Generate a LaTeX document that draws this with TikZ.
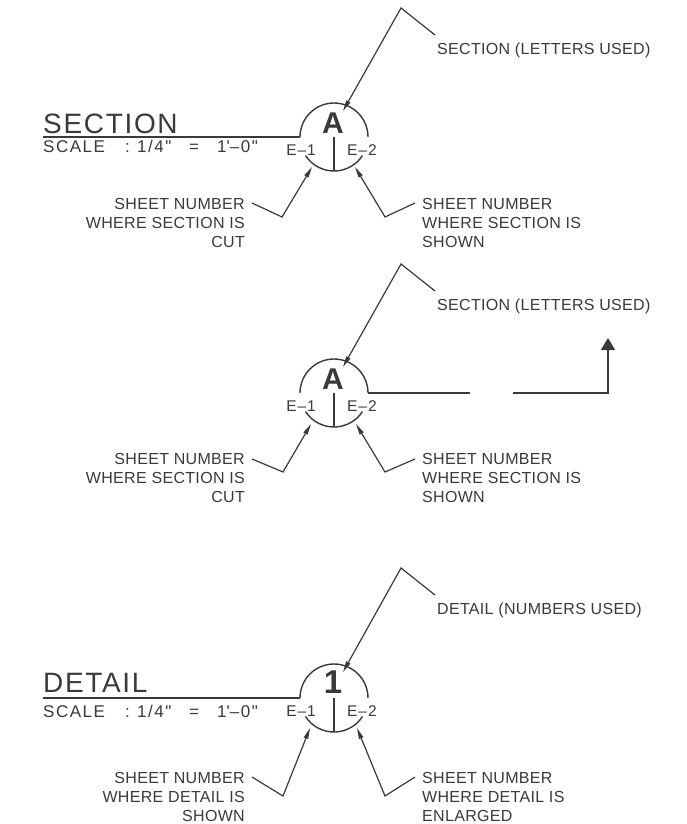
\documentclass[tikz,border=0pt]{standalone}
\usepackage{fontspec}
\setmainfont{Liberation Sans}
\newfontfamily\cadfont[LetterSpace=2]{Liberation Sans}
\newfontfamily\cadwide[LetterSpace=6]{Liberation Sans}
\newfontfamily\cadscale[LetterSpace=9]{Liberation Sans}
\usetikzlibrary{arrows.meta,calc}
\definecolor{ink}{HTML}{3A3A3A}
\newcommand\scaleline{\makebox[82pt][l]{SCALE}\makebox[12pt][l]{:}\makebox[52pt][l]{1/4"}\makebox[28pt][l]{=}1\textquotesingle–0"}
\begin{document}
\begin{tikzpicture}[x=1pt,y=-1pt,
  ln/.style={draw=ink,line width=1.4pt},
  lead/.style={draw=ink,line width=1.2pt,-{Triangle[length=11pt,width=4.5pt]}},
  bigarrow/.style={draw=ink,line width=1.4pt,-{Triangle[length=12pt,width=14pt]}},
  lbl/.style={text=ink,inner sep=0pt,font=\cadfont\fontsize{16}{19}\selectfont},
  sheet/.style={text=ink,inner sep=0pt,font=\cadwide\fontsize{15.5}{17}\selectfont},
  title/.style={text=ink,inner sep=0pt,font=\cadwide\fontsize{28}{30}\selectfont},
  scaletxt/.style={text=ink,inner sep=0pt,font=\cadscale\fontsize{17}{19}\selectfont},
  symmark/.style={text=ink,inner sep=0pt,font=\bfseries\fontsize{30}{32}\selectfont},
  nummark/.style={text=ink,inner sep=0pt,font=\bfseries\fontsize{33}{34}\selectfont}
]
\fill[white] (0,0) rectangle (686,824);
\useasboundingbox (0,0) rectangle (686,824);

% ---------------- Symbol 1 : SECTION ----------------
\coordinate (c1) at (334,137);
\node[title,anchor=base west] (t1) at (43,133) {SECTION};
\node[scaletxt,anchor=base west] (s1) at (43,152) {\scaleline};
\draw[ln] (43,137) -- (300,137);
\draw[ln] (300,137) arc[start angle=180,end angle=360,radius=34];
\draw[ln] ($(c1)+(147:34)$) arc[start angle=147,end angle=33,radius=34];
\draw[ln] (c1) -- ++(0,34);
\node[symmark,anchor=base] (m1) at (333,133) {A};
\node[sheet,anchor=base east] (e11) at (316,155) {E–1};
\node[sheet,anchor=base west] (e12) at (347,155) {E–2};
\coordinate (tp1) at (343,111);
\coordinate (ap1) at (401,8);
\coordinate (en1) at (435,35);
\node[lbl,anchor=west] (n1) at (437,50) {SECTION (LETTERS USED)};
\draw[lead] (en1) -- (ap1) -- (tp1);
\coordinate (ls1) at (252,203);
\coordinate (lk1) at (282,217);
\coordinate (lt1) at (312,167);
\coordinate (rt1) at (355,167);
\coordinate (rk1) at (385,217);
\coordinate (rs1) at (415,203);
\node[lbl,anchor=north east,align=right] (l1) at (245,198) {SHEET NUMBER\\WHERE SECTION IS\\CUT};
\node[lbl,anchor=north west,align=left] (r1) at (422,198) {SHEET NUMBER\\WHERE SECTION IS\\SHOWN};
\draw[lead] (ls1) -- (lk1) -- (lt1);
\draw[lead] (rs1) -- (rk1) -- (rt1);

% ---------------- Symbol 2 : SECTION cut line ----------------
\begin{scope}[shift={(0,256)}]
\coordinate (c2) at (334,137);
\draw[ln] (300,137) arc[start angle=180,end angle=360,radius=34];
\draw[ln] ($(c2)+(147:34)$) arc[start angle=147,end angle=33,radius=34];
\draw[ln] (c2) -- ++(0,34);
\draw[ln] (368,137) -- (470,137);
\coordinate (ua) at (513,137);
\coordinate (ub) at (608,137);
\coordinate (uc) at (608,82);
\draw[bigarrow] (ua) -- (ub) -- (uc);
\node[symmark,anchor=base] (m2) at (333,133) {A};
\node[sheet,anchor=base east] (e21) at (316,155) {E–1};
\node[sheet,anchor=base west] (e22) at (347,155) {E–2};
\coordinate (tp2) at (343,111);
\coordinate (ap2) at (401,8);
\coordinate (en2) at (435,35);
\node[lbl,anchor=west] (n2) at (437,50) {SECTION (LETTERS USED)};
\draw[lead] (en2) -- (ap2) -- (tp2);
\coordinate (ls2) at (252,203);
\coordinate (lk2) at (283,216);
\coordinate (lt2) at (311,168);
\coordinate (rt2) at (356,168);
\coordinate (rk2) at (385,216);
\coordinate (rs2) at (415,203);
\node[lbl,anchor=north east,align=right] (l2) at (245,197) {SHEET NUMBER\\WHERE SECTION IS\\CUT};
\node[lbl,anchor=north west,align=left] (r2) at (422,197) {SHEET NUMBER\\WHERE SECTION IS\\SHOWN};
\draw[lead] (ls2) -- (lk2) -- (lt2);
\draw[lead] (rs2) -- (rk2) -- (rt2);
\end{scope}

% ---------------- Symbol 3 : DETAIL ----------------
\begin{scope}[shift={(0,561)}]
\coordinate (c3) at (334,137);
\node[title,anchor=base west] (t3) at (43,131) {DETAIL};
\node[scaletxt,anchor=base west] (s3) at (43,156) {\scaleline};
\draw[ln] (43,137) -- (300,137);
\draw[ln] (300,137) arc[start angle=180,end angle=360,radius=34];
\draw[ln] ($(c3)+(147:34)$) arc[start angle=147,end angle=33,radius=34];
\draw[ln] (c3) -- ++(0,34);
\node[nummark,anchor=base] (m3) at (333,132) {1};
\node[sheet,anchor=base east] (e31) at (316,155) {E–1};
\node[sheet,anchor=base west] (e32) at (347,155) {E–2};
\coordinate (tp3) at (343,111);
\coordinate (ap3) at (401,7);
\coordinate (en3) at (435,34);
\node[lbl,anchor=west] (n3) at (437,49) {DETAIL (NUMBERS USED)};
\draw[lead] (en3) -- (ap3) -- (tp3);
\coordinate (ls3) at (252,216);
\coordinate (lk3) at (283,235);
\coordinate (lt3) at (310,167);
\coordinate (rt3) at (357,167);
\coordinate (rk3) at (385,235);
\coordinate (rs3) at (415,216);
\node[lbl,anchor=north east,align=right] (l3) at (245,211) {SHEET NUMBER\\WHERE DETAIL IS\\SHOWN};
\node[lbl,anchor=north west,align=left] (r3) at (422,211) {SHEET NUMBER\\WHERE DETAIL IS\\ENLARGED};
\draw[lead] (ls3) -- (lk3) -- (lt3);
\draw[lead] (rs3) -- (rk3) -- (rt3);
\end{scope}
\end{tikzpicture}
\end{document}
